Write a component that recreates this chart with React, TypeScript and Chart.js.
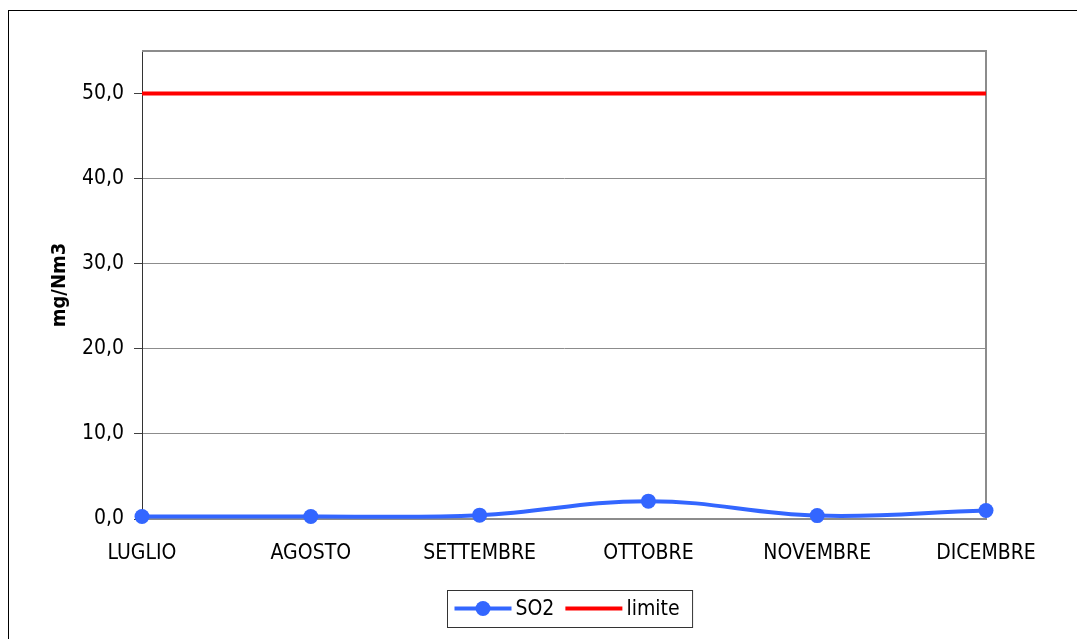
import { useEffect, useRef } from "react";
import { Chart, registerables } from "chart.js";

Chart.register(...registerables);

// Monthly SO2 concentrations (mg/Nm3) and the regulatory limit
const months = ["LUGLIO", "AGOSTO", "SETTEMBRE", "OTTOBRE", "NOVEMBRE", "DICEMBRE"];
const so2 = [0.3, 0.3, 0.45, 2.1, 0.4, 1.0];
const limite = [50, 50, 50, 50, 50, 50];
const yTicks = [0, 10, 20, 30, 40, 50];
const yMax = 55;

const FONT = "'DejaVu Sans Condensed', 'DejaVu Sans', sans-serif";
const FONT_SIZE = 21;

const fmt = (v: number) => v.toFixed(1).replace(".", ",");

// Gray frame on the top and right of the plot area
const plotFrame = {
  id: "plotFrame",
  beforeDatasetsDraw(chart: any) {
    const { ctx, chartArea } = chart;
    ctx.save();
    ctx.strokeStyle = "#8c8c8c";
    ctx.lineWidth = 2;
    ctx.beginPath();
    ctx.moveTo(chartArea.left, chartArea.top);
    ctx.lineTo(chartArea.right, chartArea.top);
    ctx.lineTo(chartArea.right, chartArea.bottom);
    ctx.stroke();
    ctx.restore();
  },
};

// Boxed legend under the axis: line swatch (with marker when the series has points) + label
const boxLegend = {
  id: "boxLegend",
  afterDraw(chart: any) {
    const { ctx, chartArea } = chart;
    const datasets = chart.data.datasets;
    ctx.save();
    ctx.font = `${FONT_SIZE}px ${FONT}`;
    const swatch = 57;
    const padL = 7, padR = 13, gapText = 4, gapItem = 11;
    const widths = datasets.map((d: any) => ctx.measureText(d.label).width);
    let total = padL + padR;
    datasets.forEach((_: any, i: number) => {
      total += swatch + gapText + widths[i] + (i < datasets.length - 1 ? gapItem : 0);
    });
    const cx = (chartArea.left + chartArea.right) / 2 + 6;
    const boxH = 37;
    const cy = chartArea.bottom + 89.5;
    const x0 = Math.round(cx - total / 2) + 0.5;
    const y0 = Math.round(cy - boxH / 2) + 0.5;

    ctx.fillStyle = "#ffffff";
    ctx.fillRect(x0, y0, total, boxH);
    ctx.strokeStyle = "#333333";
    ctx.lineWidth = 1;
    ctx.strokeRect(x0, y0, total, boxH);

    let x = x0 + padL;
    datasets.forEach((d: any, i: number) => {
      ctx.strokeStyle = d.borderColor;
      ctx.lineWidth = d.borderWidth;
      ctx.beginPath();
      ctx.moveTo(x, cy);
      ctx.lineTo(x + swatch, cy);
      ctx.stroke();
      if (d.pointRadius > 0) {
        ctx.fillStyle = d.pointBackgroundColor;
        ctx.beginPath();
        ctx.arc(x + swatch / 2, cy, d.pointRadius, 0, Math.PI * 2);
        ctx.fill();
      }
      x += swatch + gapText;
      ctx.fillStyle = "#000000";
      ctx.textAlign = "left";
      ctx.textBaseline = "middle";
      ctx.fillText(d.label, x, cy + 1);
      x += widths[i] + gapItem;
    });
    ctx.restore();
  },
};

export default function App() {
  const canvasRef = useRef<HTMLCanvasElement | null>(null);

  useEffect(() => {
    const canvas = canvasRef.current;
    if (!canvas) return;
    const chart = new Chart(canvas, {
      type: "line",
      data: {
        labels: months,
        datasets: [
          {
            label: "SO2",
            data: so2,
            borderColor: "#3366ff",
            backgroundColor: "#3366ff",
            pointBackgroundColor: "#3366ff",
            pointBorderColor: "#3366ff",
            borderWidth: 4,
            pointRadius: 7.5,
            pointBorderWidth: 0,
            tension: 0.4,
            clip: false,
            order: 0,
          },
          {
            label: "limite",
            data: limite,
            borderColor: "#ff0000",
            backgroundColor: "#ff0000",
            borderWidth: 4,
            pointRadius: 0,
            tension: 0,
            clip: false,
            order: 1,
          },
        ],
      },
      options: {
        responsive: false,
        animation: false,
        devicePixelRatio: 1,
        layout: { padding: { left: 0, top: 40, right: 99, bottom: 0 } },
        plugins: {
          legend: { display: false },
          tooltip: { enabled: false },
        },
        scales: {
          x: {
            type: "category",
            offset: false,
            grid: { display: false, drawTicks: false },
            border: { display: true, color: "#8c8c8c", width: 2 },
            ticks: {
              color: "#000000",
              font: { family: FONT, size: FONT_SIZE },
              padding: 22,
              maxRotation: 0,
              autoSkip: false,
            },
            afterFit: (scale: any) => {
              scale.height = 120;
            },
          },
          y: {
            type: "linear",
            min: 0,
            max: yMax,
            afterBuildTicks: (scale: any) => {
              scale.ticks = yTicks.map((v) => ({ value: v }));
            },
            grid: {
              color: (c: any) => (c.tick && c.tick.value === 0 ? "rgba(0,0,0,0)" : "#8c8c8c"),
              lineWidth: 1,
              tickLength: 8,
              tickColor: "#404040",
            },
            border: { display: true, color: "#333333", width: 1 },
            ticks: {
              color: "#000000",
              font: { family: FONT, size: FONT_SIZE },
              padding: 10,
              callback: (v: any) => fmt(Number(v)),
            },
            title: {
              display: true,
              text: "mg/Nm3",
              color: "#000000",
              font: { family: FONT, size: 20, weight: "bold" },
              padding: { top: 39, bottom: 0 },
            },
            afterFit: (scale: any) => {
              scale.width = 133;
            },
          },
        },
      },
      plugins: [plotFrame, boxLegend],
    });
    return () => chart.destroy();
  }, []);

  return (
    <div style={{ position: "relative", width: 1077, height: 631, overflow: "hidden" }}>
      <div
        style={{
          position: "absolute",
          top: 2,
          left: 0,
          width: 1200,
          height: 800,
          borderTop: "1px solid #000",
          borderLeft: "1px solid #000",
          boxSizing: "border-box",
        }}
      />
      <canvas
        ref={canvasRef}
        width={1076}
        height={628}
        style={{ position: "absolute", top: 3, left: 1, width: 1076, height: 628 }}
      />
    </div>
  );
}
